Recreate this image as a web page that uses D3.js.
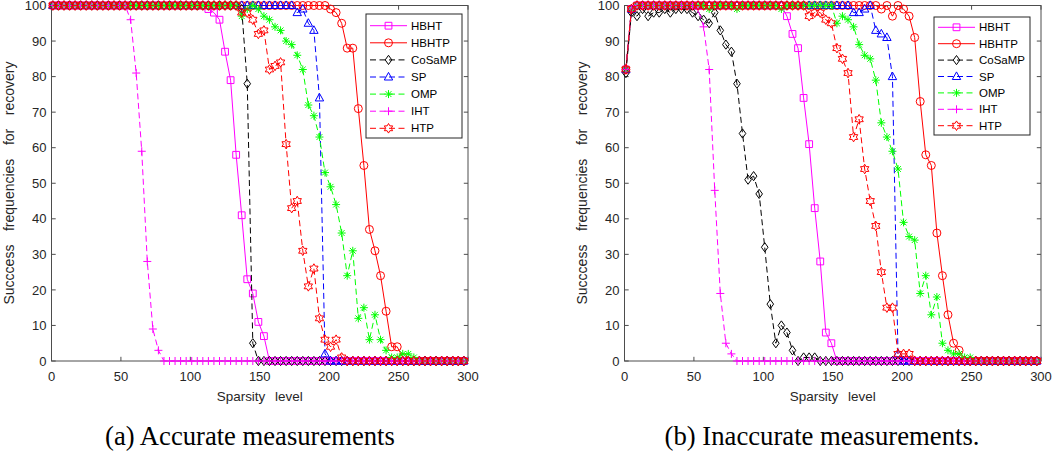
<!DOCTYPE html>
<html lang="en">
<head>
<meta charset="UTF-8" />
<title>Success frequencies vs sparsity level</title>
<style>
  body { margin: 0; background: #fff; }
  svg { display: block; background: #fff; }
  .tick-label { font-family: "Liberation Sans", Arial, sans-serif; font-size: 13px; fill: #262626; }
  .axis-label { font-family: "Liberation Sans", Arial, sans-serif; font-size: 13.5px; fill: #262626; }
  .legend-label { font-family: "Liberation Sans", Arial, sans-serif; font-size: 11.5px; fill: #000; }
  .caption { font-family: "Liberation Serif", "Times New Roman", "DejaVu Serif", serif; font-size: 22px; fill: #000; }
</style>
</head>
<body>
<svg width="1060" height="454"></svg>
<script src="https://d3js.org/d3.v7.min.js"></script>
<script>
// sparsity levels (x), same grid for both panels
const sparsity = [
  1, 5, 9, 13, 17, 21, 25, 29, 33, 37,
  41, 45, 49, 53, 57, 61, 65, 69, 73, 77,
  81, 85, 89, 93, 97, 101, 105, 109, 113, 117,
  121, 125, 129, 133, 137, 141, 145, 149, 153, 157,
  161, 165, 169, 173, 177, 181, 185, 189, 193, 197,
  201, 205, 209, 213, 217, 221, 225, 229, 233, 237,
  241, 245, 249, 253, 257, 261, 265, 269, 273, 277,
  281, 285, 289, 293, 297
];

const xTicks = [0, 50, 100, 150, 200, 250, 300];
const yTicks = [0, 10, 20, 30, 40, 50, 60, 70, 80, 90, 100];
const algorithms = ["HBHT", "HBHTP", "CoSaMP", "SP", "OMP", "IHT", "HTP"];

// (a) accurate measurements
const hbhtA = [
  100, 100, 100, 100, 100, 100, 100, 100, 100, 100,
  100, 100, 100, 100, 100, 100, 100, 100, 100, 100,
  100, 100, 100, 100, 100, 100, 100, 100, 99, 98,
  96, 87, 79, 58, 41, 23, 19, 11, 7, 0,
  0, 0, 0, 0, 0, 0, 0, 0, 0, 0,
  0, 0, 0, 0, 0, 0, 0, 0, 0, 0,
  0, 0, 0, 0, 0, 0, 0, 0, 0, 0,
  0, 0, 0, 0, 0
];
const hbhtpA = [
  100, 100, 100, 100, 100, 100, 100, 100, 100, 100,
  100, 100, 100, 100, 100, 100, 100, 100, 100, 100,
  100, 100, 100, 100, 100, 100, 100, 100, 100, 100,
  100, 100, 100, 100, 100, 100, 100, 100, 100, 100,
  100, 100, 100, 100, 100, 100, 100, 100, 100, 100,
  99, 98, 95, 88, 88, 71, 55, 37, 31, 24,
  14, 4, 4, 1, 0, 0, 0, 0, 0, 0,
  0, 0, 0, 0, 0
];
const cosampA = [
  100, 100, 100, 100, 100, 100, 100, 100, 100, 100,
  100, 100, 100, 100, 100, 100, 100, 100, 100, 100,
  100, 100, 100, 100, 100, 100, 100, 100, 100, 100,
  100, 100, 100, 100, 99, 78, 5, 0, 0, 0,
  0, 0, 0, 0, 0, 0, 0, 0, 0, 0,
  0, 0, 0, 0, 0, 0, 0, 0, 0, 0,
  0, 0, 0, 0, 0, 0, 0, 0, 0, 0,
  0, 0, 0, 0, 0
];
const spA = [
  100, 100, 100, 100, 100, 100, 100, 100, 100, 100,
  100, 100, 100, 100, 100, 100, 100, 100, 100, 100,
  100, 100, 100, 100, 100, 100, 100, 100, 100, 100,
  100, 100, 100, 100, 100, 100, 100, 100, 100, 100,
  100, 100, 100, 100, 98, 99, 95, 93, 74, 2,
  0, 0, 0, 0, 0, 0, 0, 0, 0, 0,
  0, 0, 0, 0, 0, 0, 0, 0, 0, 0,
  0, 0, 0, 0, 0
];
const ompA = [
  100, 100, 100, 100, 100, 100, 100, 100, 100, 100,
  100, 100, 100, 100, 100, 100, 100, 100, 100, 100,
  100, 100, 100, 100, 100, 100, 100, 100, 100, 100,
  100, 100, 100, 100, 97, 99, 100, 99, 97, 96,
  94, 93, 90, 89, 86, 82, 72, 69, 63, 53,
  49, 44, 36, 24, 31, 12, 15, 6, 13, 6,
  3, 1, 1, 2, 2, 1, 0, 0, 0, 0,
  0, 0, 0, 0, 0
];
const ihtA = [
  100, 100, 100, 100, 100, 100, 100, 100, 100, 100,
  100, 100, 100, 100, 96, 81, 59, 28, 9, 3,
  0, 0, 0, 0, 0, 0, 0, 0, 0, 0,
  0, 0, 0, 0, 0, 0, 0, 0, 0, 0,
  0, 0, 0, 0, 0, 0, 0, 0, 0, 0,
  0, 0, 0, 0, 0, 0, 0, 0, 0, 0,
  0, 0, 0, 0, 0, 0, 0, 0, 0, 0,
  0, 0, 0, 0, 0
];
const htpA = [
  100, 100, 100, 100, 100, 100, 100, 100, 100, 100,
  100, 100, 100, 100, 100, 100, 100, 100, 100, 100,
  100, 100, 100, 100, 100, 100, 100, 100, 100, 100,
  100, 100, 100, 100, 98, 98, 96, 92, 93, 82,
  83, 84, 61, 43, 45, 31, 21, 26, 12, 6,
  4, 6, 1, 0, 0, 0, 0, 0, 0, 0,
  0, 0, 0, 0, 0, 0, 0, 0, 0, 0,
  0, 0, 0, 0, 0
];

// (b) inaccurate measurements
const hbhtB = [
  82, 99, 100, 100, 100, 100, 100, 100, 100, 100,
  100, 100, 100, 100, 100, 100, 100, 100, 100, 100,
  100, 100, 100, 100, 100, 100, 100, 100, 100, 97,
  92, 88, 74, 61, 43, 28, 8, 5, 0, 0,
  0, 0, 0, 0, 0, 0, 0, 0, 0, 0,
  0, 0, 0, 0, 0, 0, 0, 0, 0, 0,
  0, 0, 0, 0, 0, 0, 0, 0, 0, 0,
  0, 0, 0, 0, 0
];
const hbhtpB = [
  82, 99, 100, 100, 100, 100, 100, 100, 100, 100,
  100, 100, 100, 100, 100, 100, 100, 100, 100, 100,
  100, 100, 100, 100, 100, 100, 100, 100, 100, 100,
  100, 100, 100, 100, 100, 100, 100, 100, 100, 100,
  100, 100, 100, 100, 100, 100, 99, 100, 97, 100,
  99, 97, 91, 73, 58, 55, 36, 24, 13, 5,
  3, 0, 0, 0, 0, 0, 0, 0, 0, 0,
  0, 0, 0, 0, 0
];
const cosampB = [
  81, 98, 97, 99, 97, 98, 98, 99, 98, 99,
  99, 99, 98, 97, 96, 95, 98, 93, 89, 87,
  78, 64, 51, 52, 47, 32, 16, 5, 10, 8,
  3, 0, 1, 1, 1, 0, 0, 0, 0, 0,
  0, 0, 0, 0, 0, 0, 0, 0, 0, 0,
  0, 0, 0, 0, 0, 0, 0, 0, 0, 0,
  0, 0, 0, 0, 0, 0, 0, 0, 0, 0,
  0, 0, 0, 0, 0
];
const spB = [
  82, 99, 100, 100, 100, 100, 100, 100, 100, 100,
  100, 100, 100, 100, 100, 100, 100, 100, 100, 100,
  100, 100, 100, 100, 100, 100, 100, 100, 100, 100,
  100, 100, 100, 100, 100, 100, 100, 100, 100, 100,
  100, 98, 98, 99, 100, 93, 92, 91, 80, 2,
  0, 0, 0, 0, 0, 0, 0, 0, 0, 0,
  0, 0, 0, 0, 0, 0, 0, 0, 0, 0,
  0, 0, 0, 0, 0
];
const ompB = [
  82, 99, 100, 100, 100, 100, 100, 100, 100, 100,
  100, 100, 100, 100, 100, 99, 100, 100, 100, 100,
  99, 100, 100, 100, 100, 100, 100, 100, 99, 100,
  100, 100, 100, 100, 100, 100, 100, 100, 95, 97,
  96, 94, 89, 86, 85, 79, 67, 63, 59, 54,
  39, 35, 34, 19, 24, 13, 18, 5, 3, 2,
  2, 1, 1, 0, 0, 0, 0, 0, 0, 0,
  0, 0, 0, 0, 0
];
const ihtB = [
  82, 99, 100, 100, 100, 100, 100, 100, 100, 100,
  100, 100, 100, 99, 94, 82, 48, 19, 5, 2,
  0, 0, 0, 0, 0, 0, 0, 0, 0, 0,
  0, 0, 0, 0, 0, 0, 0, 0, 0, 0,
  0, 0, 0, 0, 0, 0, 0, 0, 0, 0,
  0, 0, 0, 0, 0, 0, 0, 0, 0, 0,
  0, 0, 0, 0, 0, 0, 0, 0, 0, 0,
  0, 0, 0, 0, 0
];
const htpB = [
  82, 99, 100, 100, 100, 100, 100, 100, 100, 100,
  100, 100, 100, 100, 100, 100, 100, 100, 100, 100,
  100, 100, 100, 100, 100, 100, 100, 100, 100, 100,
  100, 100, 100, 97, 98, 98, 96, 95, 88, 85,
  81, 63, 68, 54, 45, 38, 25, 15, 15, 2,
  2, 2, 0, 0, 0, 0, 0, 0, 0, 0,
  0, 0, 0, 0, 0, 0, 0, 0, 0, 0,
  0, 0, 0, 0, 0
];

// line style per algorithm (MATLAB-like)
const styles = {
  HBHT:   { color: "#ff00ff", dashed: false, marker: "square" },
  HBHTP:  { color: "#ff0000", dashed: false, marker: "circle" },
  CoSaMP: { color: "#000000", dashed: true,  marker: "diamond" },
  SP:     { color: "#0000ff", dashed: true,  marker: "triangle" },
  OMP:    { color: "#00ff00", dashed: true,  marker: "asterisk" },
  IHT:    { color: "#ff00ff", dashed: true,  marker: "plus" },
  HTP:    { color: "#ff0000", dashed: true,  marker: "hexagram" }
};

function markerPath(type) {
  switch (type) {
    case "square": return "M-3.4,-3.4H3.4V3.4H-3.4Z";
    case "circle": return "M4,0A4,4 0 1,1 -4,0A4,4 0 1,1 4,0Z";
    case "diamond": return "M0,-4.6L3.3,0L0,4.6L-3.3,0Z";
    case "triangle": return "M0,-4.6L4.2,3L-4.2,3Z";
    case "plus": return "M-4,0H4M0,-4V4";
    case "asterisk": return "M-4,0H4M0,-4V4M-2.9,-2.9L2.9,2.9M-2.9,2.9L2.9,-2.9";
    case "hexagram": {
      const pts = [];
      for (let i = 0; i < 12; i++) {
        const a = -Math.PI / 2 + i * Math.PI / 6;
        const r = i % 2 === 0 ? 4.8 : 4.8 / Math.sqrt(3);
        pts.push((Math.cos(a) * r).toFixed(2) + "," + (Math.sin(a) * r).toFixed(2));
      }
      return "M" + pts.join("L") + "Z";
    }
  }
}

// size a label so that it spans `target` px, with the extra room put between words
function spreadWords(sel, target, gaps, wordShare) {
  const base = parseFloat(sel.style("font-size"));
  const w0 = sel.node().getComputedTextLength();
  const size = Math.max(10, Math.min(14, base * (target - gaps * wordShare) / w0));
  sel.style("font-size", size + "px");
  const w1 = sel.node().getComputedTextLength();
  sel.style("word-spacing", Math.max(0, (target - w1) / gaps) + "px");
}

const svg = d3.select("svg");

const panels = [
  {
    left: 51.5, right: 468, top: 5.5, bottom: 361,
    series: [hbhtA, hbhtpA, cosampA, spA, ompA, ihtA, htpA],
    legend: { x: 366, y: 14, w: 96, h: 124, first: 25.7, step: 17.1 },
    yLabelX: 14,
    caption: "(a) Accurate measurements", captionX: 250, captionW: 290
  },
  {
    left: 624.5, right: 1041, top: 5.5, bottom: 361,
    series: [hbhtB, hbhtpB, cosampB, spB, ompB, ihtB, htpB],
    legend: { x: 934, y: 17, w: 96, h: 118, first: 27.3, step: 16.4 },
    yLabelX: 587,
    caption: "(b) Inaccurate measurements.", captionX: 822, captionW: 315
  }
];

panels.forEach(p => {
  const g = svg.append("g");
  const x = d3.scaleLinear().domain([0, 300]).range([p.left, p.right]);
  const y = d3.scaleLinear().domain([0, 100]).range([p.bottom, p.top]);

  // axes box with inward ticks on all sides
  const axisColor = "#4d4d4d";
  g.append("rect")
    .attr("x", p.left).attr("y", p.top)
    .attr("width", p.right - p.left).attr("height", p.bottom - p.top)
    .attr("fill", "none").attr("stroke", axisColor).attr("stroke-width", 1);

  const tickLen = 4.2;
  xTicks.forEach(t => {
    g.append("line").attr("x1", x(t)).attr("x2", x(t))
      .attr("y1", p.bottom).attr("y2", p.bottom - tickLen).attr("stroke", axisColor);
    g.append("line").attr("x1", x(t)).attr("x2", x(t))
      .attr("y1", p.top).attr("y2", p.top + tickLen).attr("stroke", axisColor);
    g.append("text").attr("class", "tick-label")
      .attr("x", x(t)).attr("y", p.bottom + 20)
      .attr("text-anchor", "middle").text(t);
  });
  yTicks.forEach(t => {
    g.append("line").attr("x1", p.left).attr("x2", p.left + tickLen)
      .attr("y1", y(t)).attr("y2", y(t)).attr("stroke", axisColor);
    g.append("line").attr("x1", p.right).attr("x2", p.right - tickLen)
      .attr("y1", y(t)).attr("y2", y(t)).attr("stroke", axisColor);
    g.append("text").attr("class", "tick-label")
      .attr("x", p.left - 5).attr("y", y(t))
      .attr("dy", "0.36em")
      .attr("text-anchor", "end").text(t);
  });

  const xl = g.append("text").attr("class", "axis-label")
    .attr("x", (p.left + p.right) / 2).attr("y", 401)
    .attr("text-anchor", "middle")
    .text("Sparsity level");
  spreadWords(xl, 86, 1, 6);

  const yl = g.append("text").attr("class", "axis-label")
    .attr("transform", `translate(${p.yLabelX},183) rotate(-90)`)
    .attr("text-anchor", "middle")
    .text("Succcess frequencies for recovery");
  spreadWords(yl, 243, 3, 6);

  // curves, in plotting order
  const line = d3.line().x((d, i) => x(sparsity[i])).y(d => y(d));
  algorithms.forEach((name, si) => {
    const st = styles[name];
    const data = p.series[si];
    g.append("path")
      .attr("d", line(data))
      .attr("fill", "none")
      .attr("stroke", st.color)
      .attr("stroke-width", 1)
      .attr("stroke-dasharray", st.dashed ? "6,3.5" : null);
    g.selectAll(null).data(data).enter().append("path")
      .attr("d", markerPath(st.marker))
      .attr("transform", (d, i) => `translate(${x(sparsity[i])},${y(d)})`)
      .attr("fill", "none")
      .attr("stroke", st.color)
      .attr("stroke-width", 1);
  });

  // legend
  const L = p.legend;
  const lg = g.append("g");
  lg.append("rect")
    .attr("x", L.x).attr("y", L.y).attr("width", L.w).attr("height", L.h)
    .attr("fill", "#fff").attr("stroke", "#262626").attr("stroke-width", 1);
  algorithms.forEach((name, i) => {
    const st = styles[name];
    const cy = L.first + i * L.step;
    lg.append("line")
      .attr("x1", L.x + 4).attr("x2", L.x + 41)
      .attr("y1", cy).attr("y2", cy)
      .attr("stroke", st.color)
      .attr("stroke-dasharray", st.dashed ? "6,3.5" : null);
    lg.append("path")
      .attr("d", markerPath(st.marker))
      .attr("transform", `translate(${L.x + 22.5},${cy})`)
      .attr("fill", "none").attr("stroke", st.color);
    lg.append("text").attr("class", "legend-label")
      .attr("x", L.x + 45).attr("y", cy).attr("dy", "0.36em")
      .text(name);
  });

  const cap = g.append("text").attr("class", "caption")
    .attr("x", p.captionX).attr("y", 445)
    .attr("text-anchor", "middle")
    .text(p.caption);
  const cw = cap.node().getComputedTextLength();
  cap.style("font-size", (22 * p.captionW / cw) + "px");
});
</script>
</body>
</html>
